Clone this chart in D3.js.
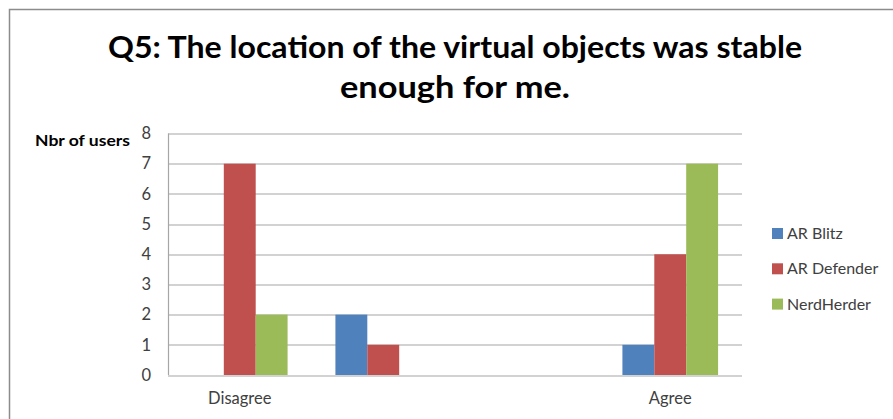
<!DOCTYPE html>
<html>
<head>
<meta charset="utf-8">
<script src="https://cdn.jsdelivr.net/npm/d3@7"></script>
<style>
  body { margin: 0; background: #fff; }
  svg text { font-family: Lato, 'Open Sans', sans-serif; }
</style>
</head>
<body>
<div id="chart"></div>
<script>
// chart data
const categories = ['Disagree', '', ' ', 'Agree']
const seriesNames = ['AR Blitz', 'AR Defender', 'NerdHerder']
const arBlitz = [0, 2, 0, 1]
const arDefender = [7, 1, 0, 4]
const nerdHerder = [2, 0, 0, 7]
const yTicks = [0, 1, 2, 3, 4, 5, 6, 7, 8]
const titleLines = ['Q5: The location of the virtual objects was stable', 'enough for me.']
const yLabel = 'Nbr of users'

const colors = ['#4F81BD', '#C0504D', '#9BBB59']
const seriesValues = [arBlitz, arDefender, nerdHerder]

const width = 893, height = 419
const margin = {top: 133.5, left: 168, right: 151, bottom: 44}
const chartWidth = width - margin.left - margin.right
const chartHeight = height - margin.top - margin.bottom

const svg = d3.select('#chart').append('svg')
  .attr('width', width)
  .attr('height', height)

// outer frame
svg.append('rect')
  .attr('x', 9.5).attr('y', 9.5)
  .attr('width', width + 20).attr('height', height + 20)
  .attr('fill', 'none')
  .attr('stroke', '#8c8c8c')
  .attr('stroke-width', 1.5)

// title
svg.append('g').selectAll('text')
  .data(titleLines)
  .enter().append('text')
  .attr('x', 455)
  .attr('y', function(d, i){ return 58 + i * 40 })
  .attr('text-anchor', 'middle')
  .attr('font-size', 31)
  .attr('font-weight', 'bold')
  .attr('fill', '#000')
  .attr('textLength', function(d, i){ return i === 0 ? 694 : 230 })
  .attr('lengthAdjust', 'spacingAndGlyphs')
  .text(function(d){ return d })

const x0 = d3.scaleBand().domain(categories).range([0, chartWidth])
// excel gap width 150% -> 3 bars + 1.5 bar of gap per band
const barW = x0.bandwidth() / (seriesNames.length + 1.5)
const x1 = d3.scaleBand().domain(seriesNames)
  .range([0, barW * seriesNames.length])
const y = d3.scaleLinear().domain([0, 8]).range([chartHeight, 0])

const chartArea = svg.append('g')
  .attr('transform', 'translate(' + margin.left + ',' + margin.top + ')')

// gridlines
chartArea.append('g').selectAll('line')
  .data(yTicks)
  .enter().append('line')
  .attr('x1', 0).attr('x2', chartWidth)
  .attr('y1', function(d){ return Math.round(y(d)) + 0.5 })
  .attr('y2', function(d){ return Math.round(y(d)) + 0.5 })
  .attr('stroke', '#a6a6a6')
  .attr('stroke-width', 1.2)

chartArea.append('line')
  .attr('x1', 0.5).attr('x2', 0.5)
  .attr('y1', 0).attr('y2', chartHeight)
  .attr('stroke', '#a6a6a6')
  .attr('stroke-width', 1.2)

// y axis labels
const yAxis = chartArea.append('g')
  .call(d3.axisLeft(y).tickValues(yTicks).tickSize(0).tickPadding(17))
yAxis.select('.domain').remove()
yAxis.selectAll('text')
  .attr('font-size', 16.5)
  .attr('fill', '#404040')
  .style('font-family', 'Lato, sans-serif')

// x axis labels
const xAxis = chartArea.append('g')
  .attr('transform', 'translate(0,' + chartHeight + ')')
  .call(d3.axisBottom(x0).tickSize(0).tickPadding(17))
xAxis.select('.domain').remove()
xAxis.selectAll('text')
  .attr('font-size', 16.5)
  .attr('fill', '#404040')
  .style('font-family', 'Lato, sans-serif')

// bars
const groups = chartArea.selectAll('g.cat')
  .data(categories)
  .enter().append('g')
  .attr('class', 'cat')
  .attr('transform', function(d){ return 'translate(' + (x0(d) + (x0.bandwidth() - barW * 3) / 2) + ',0)' })

groups.selectAll('rect')
  .data(function(d, i){ return seriesNames.map(function(s, j){ return {name: s, value: seriesValues[j][i], k: j} }) })
  .enter().append('rect')
  .filter(function(d){ return d.value > 0 })
  .attr('x', function(d){ return x1(d.name) })
  .attr('width', x1.bandwidth())
  .attr('y', function(d){ return y(d.value) })
  .attr('height', function(d){ return y(0) - y(d.value) })
  .attr('fill', function(d){ return colors[d.k] })

// y label
svg.append('text')
  .attr('x', 35)
  .attr('y', 146)
  .attr('font-size', 15)
  .attr('font-weight', 'bold')
  .attr('fill', '#000')
  .attr('textLength', 95)
  .attr('lengthAdjust', 'spacingAndGlyphs')
  .text(yLabel)

// legend
const legend = svg.append('g').selectAll('g')
  .data(seriesNames)
  .enter().append('g')
  .attr('transform', function(d, i){ return 'translate(772,' + (228 + i * 35.3) + ')' })
legend.append('rect')
  .attr('width', 11).attr('height', 11)
  .attr('fill', function(d, i){ return colors[i] })
legend.append('text')
  .attr('x', 15)
  .attr('y', 11)
  .attr('font-size', 16)
  .attr('fill', '#404040')
  .text(function(d){ return d })
</script>
</body>
</html>
